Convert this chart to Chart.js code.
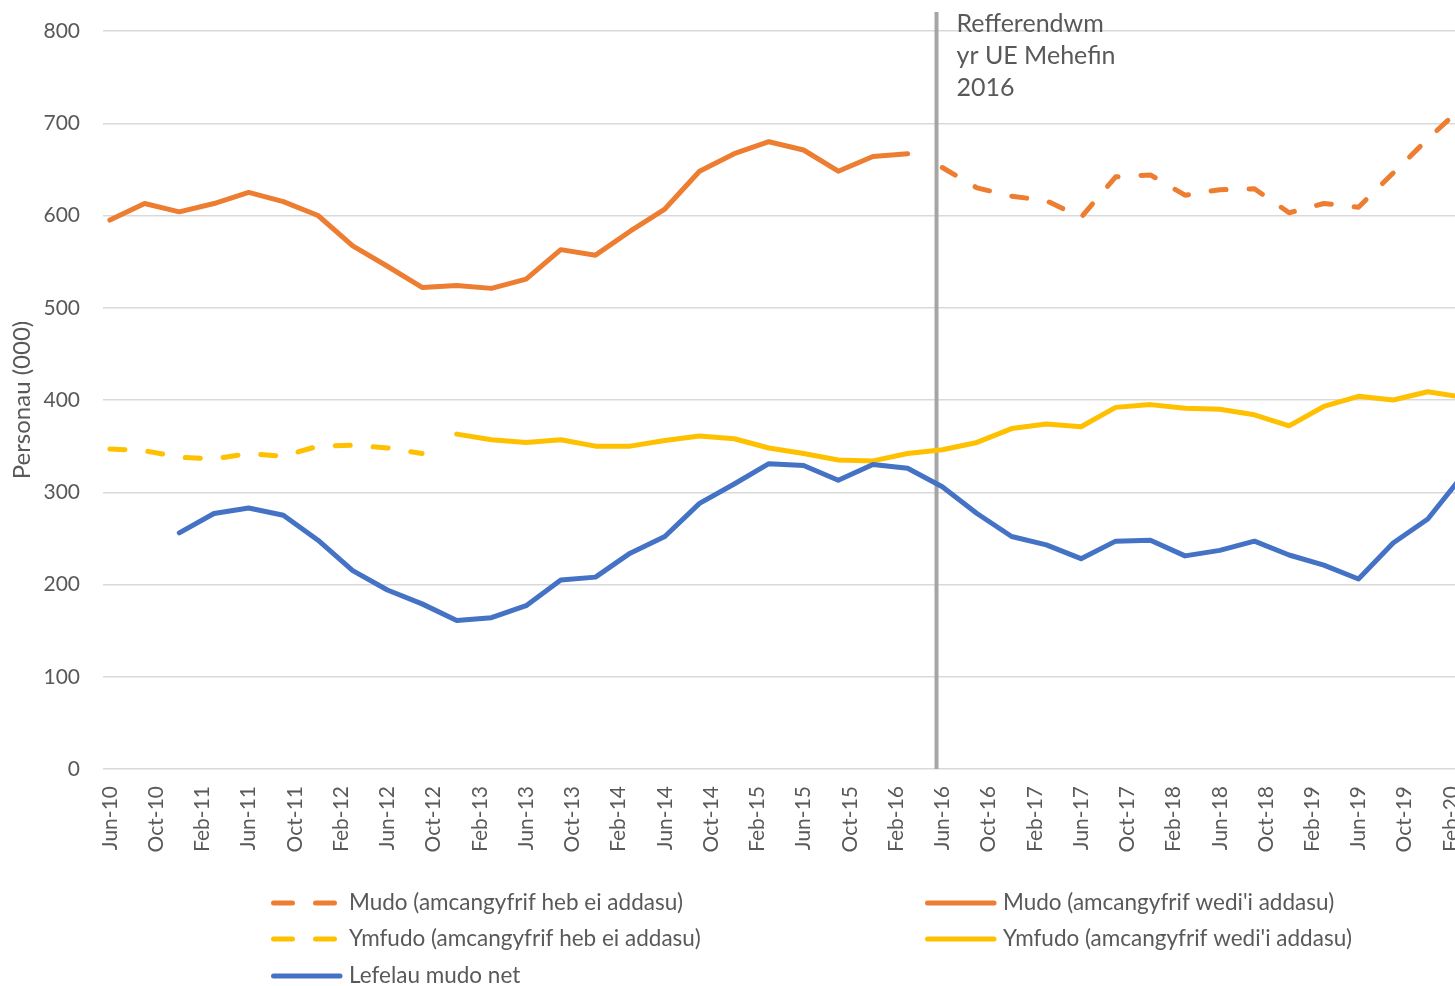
<!DOCTYPE html>
<html lang="cy">
<head>
<meta charset="UTF-8">
<title>Mudo ac ymfudo</title>
<script src="https://cdn.jsdelivr.net/npm/chart.js"></script>
<style>
  html, body { margin: 0; padding: 0; background: #fff; overflow: hidden; }
  #chart { display: block; }
</style>
</head>
<body>
<canvas id="chart" width="1455" height="986"></canvas>
<script>
// quarterly estimates, thousands of people (Jun-10 .. Mar-20)
const quarters = [
  'Jun-10', 'Sep-10', 'Dec-10', 'Mar-11', 'Jun-11', 'Sep-11', 'Dec-11', 'Mar-12',
  'Jun-12', 'Sep-12', 'Dec-12', 'Mar-13', 'Jun-13', 'Sep-13', 'Dec-13', 'Mar-14',
  'Jun-14', 'Sep-14', 'Dec-14', 'Mar-15', 'Jun-15', 'Sep-15', 'Dec-15', 'Mar-16',
  'Jun-16', 'Sep-16', 'Dec-16', 'Mar-17', 'Jun-17', 'Sep-17', 'Dec-17', 'Mar-18',
  'Jun-18', 'Sep-18', 'Dec-18', 'Mar-19', 'Jun-19', 'Sep-19', 'Dec-19', 'Mar-20'
];

const mudoHeb = [
  null, null, null, null, null, null, null, null,
  null, null, null, null, null, null, null, null,
  null, null, null, null, null, null, null, null,
  652, 630, 621, 616, 598, 642, 644, 622,
  628, 629, 603, 613, 609, 646, 683, 718
];
const mudoWedi = [
  595, 613, 604, 613, 625, 615, 600, 567,
  545, 522, 524, 521, 531, 563, 557, 583,
  607, 648, 667, 680, 671, 648, 664, 667,
  null, null, null, null, null, null, null, null,
  null, null, null, null, null, null, null, null
];
const ymfudoHeb = [
  347, 345, 338, 336, 342, 339, 350, 351,
  348, 342, null, null, null, null, null, null,
  null, null, null, null, null, null, null, null,
  null, null, null, null, null, null, null, null,
  null, null, null, null, null, null, null, null
];
const ymfudoWedi = [
  null, null, null, null, null, null, null, null,
  null, null, 363, 357, 354, 357, 350, 350,
  356, 361, 358, 348, 342, 335, 334, 342,
  346, 354, 369, 374, 371, 392, 395, 391,
  390, 384, 372, 393, 404, 400, 409, 403
];
const mudoNet = [
  null, null, 256, 277, 283, 275, 248, 215,
  194, 179, 161, 164, 177, 205, 208, 234,
  252, 288, 309, 331, 329, 313, 330, 326,
  306, 277, 252, 243, 228, 247, 248, 231,
  237, 247, 232, 221, 206, 245, 271, 318
];

const tickLabels = [
  'Jun-10', 'Oct-10', 'Feb-11', 'Jun-11', 'Oct-11', 'Feb-12', 'Jun-12', 'Oct-12',
  'Feb-13', 'Jun-13', 'Oct-13', 'Feb-14', 'Jun-14', 'Oct-14', 'Feb-15', 'Jun-15',
  'Oct-15', 'Feb-16', 'Jun-16', 'Oct-16', 'Feb-17', 'Jun-17', 'Oct-17', 'Feb-18',
  'Jun-18', 'Oct-18', 'Feb-19', 'Jun-19', 'Oct-19', 'Feb-20'
];

const referendumMonth = 71.5;
const referendumText = ['Refferendwm', 'yr UE Mehefin', '2016'];

const textColor = '#595959';
const fontFamily = 'Lato, "Noto Sans", sans-serif';

const monthNames = ['Jan', 'Feb', 'Mar', 'Apr', 'May', 'Jun', 'Jul', 'Aug', 'Sep', 'Oct', 'Nov', 'Dec'];

// months counted from Jun-10
function monthIndex(label) {
  const parts = label.split('-');
  return (parseInt(parts[1], 10) - 10) * 12 + monthNames.indexOf(parts[0]) - 5;
}

function points(values) {
  return quarters
    .map((q, i) => ({ x: monthIndex(q), y: values[i] }))
    .filter(p => p.y !== null);
}

function lineSet(label, values, color, dashed, order) {
  return {
    label: label,
    data: points(values),
    borderColor: color,
    backgroundColor: color,
    borderWidth: 5,
    borderDash: dashed ? [15, 23] : [],
    borderCapStyle: 'round',
    borderJoinStyle: 'round',
    pointRadius: 0,
    tension: 0,
    order: order
  };
}

const referendumPlugin = {
  id: 'referendum',
  beforeDatasetsDraw(chart) {
    const ctx = chart.ctx;
    const area = chart.chartArea;
    const px = chart.scales.x.getPixelForValue(referendumMonth);
    ctx.save();
    ctx.strokeStyle = '#A5A5A5';
    ctx.lineWidth = 4;
    ctx.beginPath();
    ctx.moveTo(px, area.top - 19);
    ctx.lineTo(px, area.bottom);
    ctx.stroke();
    ctx.fillStyle = textColor;
    ctx.font = '25px ' + fontFamily;
    ctx.textAlign = 'left';
    ctx.textBaseline = 'middle';
    referendumText.forEach((line, i) => {
      ctx.fillText(line, px + 20, area.top - 7 + i * 32);
    });
    ctx.restore();
  }
};

// two-column legend under the axis, like the original
const legendPlugin = {
  id: 'gridLegend',
  afterDraw(chart) {
    const ctx = chart.ctx;
    const slots = [[271, 903], [925, 903], [271, 939], [925, 939], [271, 976]];
    ctx.save();
    ctx.font = '22.5px ' + fontFamily;
    ctx.textBaseline = 'middle';
    ctx.textAlign = 'left';
    chart.data.datasets.forEach((ds, i) => {
      const [x, y] = slots[i];
      ctx.strokeStyle = ds.borderColor;
      ctx.lineWidth = 5;
      ctx.lineCap = 'round';
      ctx.beginPath();
      if (ds.borderDash.length) {
        ctx.setLineDash([19, 23]);
        ctx.moveTo(x + 2.5, y);
        ctx.lineTo(x + 64, y);
      } else {
        ctx.setLineDash([]);
        ctx.moveTo(x + 2.5, y);
        ctx.lineTo(x + 69, y);
      }
      ctx.stroke();
      ctx.fillStyle = textColor;
      ctx.fillText(ds.label, x + 78, y);
    });
    ctx.restore();
  }
};

new Chart(document.getElementById('chart'), {
  type: 'line',
  data: {
    datasets: [
      lineSet('Mudo (amcangyfrif heb ei addasu)', mudoHeb, '#ED7D31', true, 5),
      lineSet("Mudo (amcangyfrif wedi'i addasu)", mudoWedi, '#ED7D31', false, 4),
      lineSet('Ymfudo (amcangyfrif heb ei addasu)', ymfudoHeb, '#FFC000', true, 3),
      lineSet("Ymfudo (amcangyfrif wedi'i addasu)", ymfudoWedi, '#FFC000', false, 2),
      lineSet('Lefelau mudo net', mudoNet, '#4472C4', false, 1)
    ]
  },
  options: {
    responsive: false,
    animation: false,
    layout: { padding: { top: 31, right: 0, bottom: 0, left: 0 } },
    plugins: {
      legend: { display: false },
      tooltip: { enabled: false }
    },
    scales: {
      x: {
        type: 'linear',
        min: -0.6,
        max: 116.35,
        afterBuildTicks: scale => {
          scale.ticks = tickLabels.map(l => ({ value: monthIndex(l) }));
        },
        afterFit: scale => {
          scale.height = 217;
          scale.paddingLeft = 0;
          scale.paddingRight = 0;
        },
        ticks: {
          autoSkip: false,
          minRotation: 90,
          maxRotation: 90,
          padding: 17,
          color: textColor,
          font: { family: fontFamily, size: 21 },
          callback: v => tickLabels.find(l => monthIndex(l) === v)
        },
        grid: { display: false, drawTicks: false },
        border: { display: false }
      },
      y: {
        min: 0,
        max: 800,
        afterFit: scale => {
          scale.width = 103;
          scale.paddingTop = 0;
          scale.paddingBottom = 0;
        },
        ticks: {
          stepSize: 100,
          padding: 23,
          color: textColor,
          font: { family: fontFamily, size: 21 }
        },
        grid: { color: '#D9D9D9', lineWidth: 1.5, drawTicks: false },
        border: { display: false },
        title: {
          display: true,
          text: 'Personau (000)',
          color: textColor,
          font: { family: fontFamily, size: 24 },
          padding: { top: 8, bottom: 0 }
        }
      }
    }
  },
  plugins: [referendumPlugin, legendPlugin]
});
</script>
</body>
</html>
